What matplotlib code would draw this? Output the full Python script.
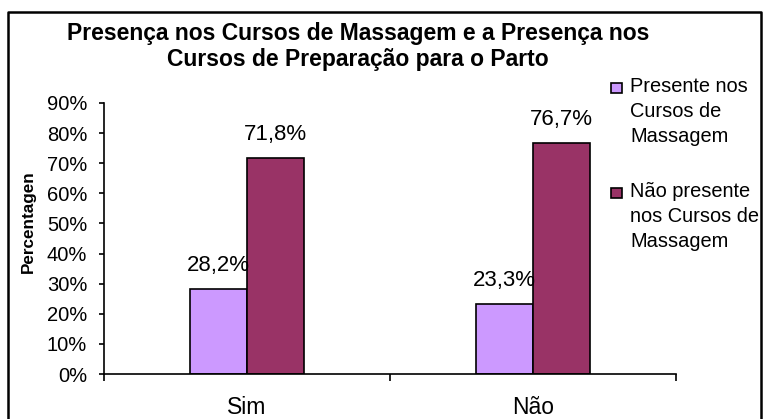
import numpy as np
import matplotlib.pyplot as plt
from matplotlib.lines import Line2D
from matplotlib.patches import Rectangle

plt.rcParams['font.family'] = ['Liberation Sans', 'DejaVu Sans']

categories = ['Sim', 'Não']
presente = [0.282, 0.233]
nao_presente = [0.718, 0.767]
series_labels = ['Presente nos\nCursos de\nMassagem', 'Não presente\nnos Cursos de\nMassagem']
colors = ['#CC99FF', '#993366']

W, H = 764, 419
fig = plt.figure(figsize=(W / 100, H / 100), dpi=100)
ax = fig.add_axes([104 / W, 1 - 374 / H, (676 - 104) / W, (374 - 103) / H])

x = np.arange(len(categories))
w = 0.2
b1 = ax.bar(x - w / 2, presente, w, color=colors[0], edgecolor='black', linewidth=1.2)
b2 = ax.bar(x + w / 2, nao_presente, w, color=colors[1], edgecolor='black', linewidth=1.2)

for bars in (b1, b2):
    for r in bars:
        v = r.get_height()
        ax.annotate(f'{v * 100:.1f}%'.replace('.', ','),
                    (r.get_x() + r.get_width() / 2, v),
                    xytext=(0, 17), textcoords='offset points',
                    ha='center', va='center', fontsize=16)

ax.set_xlim(-0.5, 1.5)
ax.set_ylim(0, 0.9)
yt = np.arange(0, 0.91, 0.1)
ax.set_yticks(yt)
ax.set_yticklabels([f'{int(round(t * 100))}%' for t in yt], fontsize=14.5)
ax.tick_params(axis='y', direction='out', length=3.6, width=1.2, pad=8.5)

ax.set_xticks([-0.5, 0.5, 1.5])
ax.set_xticklabels([])
ax.tick_params(axis='x', which='major', direction='out', length=5, width=1.2)
ax.set_xticks(x, minor=True)
ax.set_xticklabels(categories, minor=True, fontsize=16.5)
ax.tick_params(axis='x', which='minor', length=0, pad=16)

for s in ['top', 'right']:
    ax.spines[s].set_visible(False)
for s in ['left', 'bottom']:
    ax.spines[s].set_linewidth(1.2)

ax.set_ylabel('Percentagen', fontsize=12.3, fontweight='bold')
ax.yaxis.set_label_coords((36 - 104) / 572, (374 - 222) / 271)

fig.text(358 / W, 1 - 46.5 / H,
         'Presença nos Cursos de Massagem e a Presença nos\nCursos de Preparação para o Parto',
         ha='center', va='center', fontsize=16.5, fontweight='bold', linespacing=1.2)

# legend drawn by hand so the marker sits beside the first line
leg_y = [88, 193]
for lab, col, yy in zip(series_labels, colors, leg_y):
    fig.add_artist(Rectangle((611 / W, 1 - (yy + 5) / H), 11 / W, 10 / H,
                             transform=fig.transFigure, facecolor=col,
                             edgecolor='black', linewidth=1.2))
    fig.text(630 / W, 1 - (yy - 11) / H, lab, ha='left', va='top',
             fontsize=14.4, linespacing=1.4)

# outer chart border (bottom edge is cut off)
fig.add_artist(Line2D([8 / W, 8 / W, 761 / W, 761 / W],
                      [0, 1 - 12 / H, 1 - 12 / H, 0],
                      transform=fig.transFigure, color='black', linewidth=1.8))

fig.savefig('out.png', dpi=100)
